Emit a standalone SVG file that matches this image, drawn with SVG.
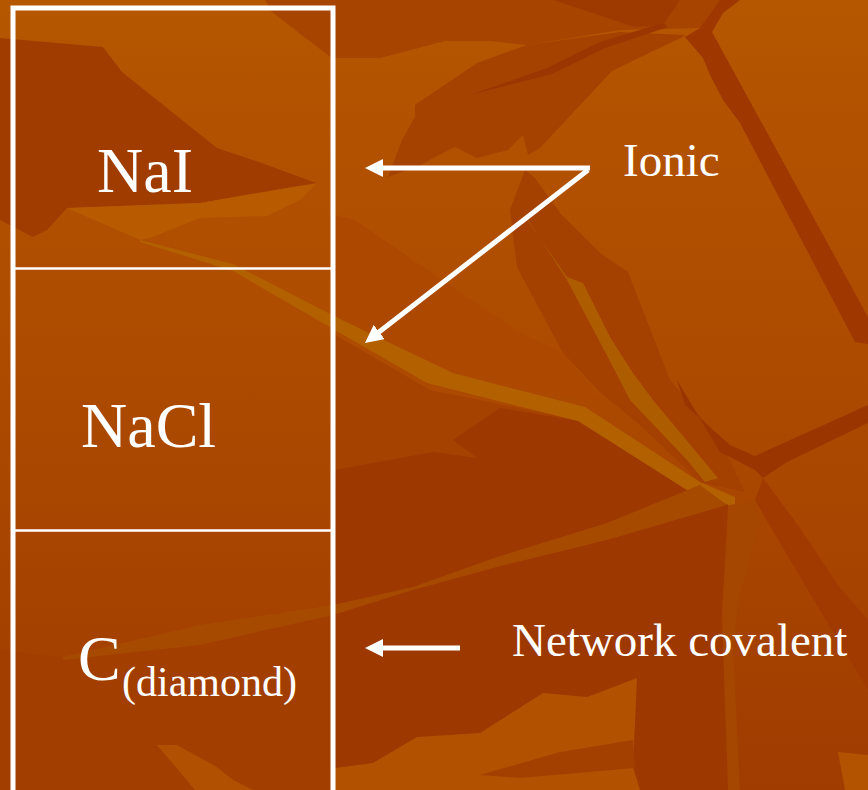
<svg xmlns="http://www.w3.org/2000/svg" width="868" height="790" viewBox="0 0 868 790">
  <defs>
    <linearGradient id="bg" x1="0" y1="0" x2="0" y2="1">
      <stop offset="0" stop-color="#B55600"/>
      <stop offset="0.45" stop-color="#AD4B00"/>
      <stop offset="1" stop-color="#A03C00"/>
    </linearGradient>
    <marker id="head" viewBox="0 0 18 18" markerWidth="18" markerHeight="18" refX="1" refY="9" orient="auto" markerUnits="userSpaceOnUse">
      <path d="M0,0 L18,9 L0,18 Z" fill="#FFFFFF"/>
    </marker>
    <style>
      .label { font-family: "Liberation Serif", "Times New Roman", serif; fill: #FFFFFF; }
      .big { font-size: 64px; }
      .side { font-size: 47px; }
      .sub { font-size: 42px; }
      .frame { fill: none; stroke: #FFFFFF; }
      .arrow { stroke: #FFFFFF; stroke-width: 5; fill: none; marker-end: url(#head); }
    </style>
  </defs>

  <!-- leaf texture background -->
  <g id="background">
    <rect x="0" y="0" width="868" height="790" fill="url(#bg)"/>
    <!-- darker field below the long golden vein -->
    <polygon fill="#A54200" points="335,335 430,390 578,420 700,488 728,505 722,613 728,790 335,790"/>
    <polygon fill="#9D3800" points="335,470 433,452 477,458 453,440 500,408 578,421 700,488 728,505 722,613 728,790 335,790"/>
    <polygon fill="#A23E00" points="0,650 63,658 200,632 333,610 333,790 0,790"/>
    <!-- subtle shading under the first arrow -->
    <polygon fill="#AC4800" points="335,215 355,220 417,263 520,333 563,353 600,400 450,380 335,322"/>
    <!-- top dark band -->
    <polygon fill="#A64400" points="265,0 271,11 299,33 332,58 380,58 445,41 490,41 527,45 620,30 700,28 717,13 737,0"/>
    <polygon fill="#9E3A00" points="553,0 635,27 663,25 680,0"/>
    <!-- dark leaf in the upper middle -->
    <polygon fill="#A54200" points="388,177 402,140 415,117 415,105 477,63 527,45 620,32 685,35 683,37 655,50 612,71 583,102 540,148 528,155 523,135 508,150 477,158 455,147 435,157 421,165"/>
    <polygon fill="#9B3600" points="470,95 547,68 600,42 663,23 668,27 605,48 552,74"/>
    <!-- dark area inside the top cell -->
    <polygon fill="#A03C00" points="0,38 103,47 122,72 217,148 253,160 316,183 293,187 200,203 67,208 47,230 33,237 0,220"/>
    <polygon fill="#B85A00" points="67,208 200,203 293,187 316,184 300,200 267,216 200,218 150,238 140,240"/>
    <!-- right-hand dark vein -->
    <polygon fill="#9E3800" points="685,37 703,58 710,75 723,100 740,123 855,342 868,344 868,317 712,32 723,13 740,0 720,0 700,28"/>
    <!-- dark band running down to the junction -->
    <polygon fill="#A44000" points="525,170 510,210 517,267 563,353 600,392 640,425 700,482 745,492 720,440 670,380 628,272 600,253 560,213 535,178"/>
    <!-- dark veins leaving the junction -->
    <polygon fill="#9B3500" points="677,380 685,405 730,445 755,456 868,405 868,423 787,462 763,478 755,470 720,452"/>
    <polygon fill="#A03A00" points="755,500 763,478 800,528 840,588 868,620 868,690 833,632 790,560"/>
    <!-- golden veins -->
    <polygon fill="#B26000" points="140,240 233,264 340,319 453,373 585,407 700,482 735,497 735,507 690,492 578,421 427,383 340,333 233,271 140,242"/>
    <polygon fill="#AE5C00" points="525,217 567,277 583,283 610,337 633,373 653,400 718,478 705,482 687,460 630,400 613,367 567,280 528,220"/>
    <polygon fill="#A64A00" points="63,657 200,625 333,605 413,587 497,557 607,523 700,485 727,505 607,540 497,567 413,590 333,615 200,645 63,660"/>
    <polygon fill="#A54700" points="730,505 725,567 722,613 728,790 740,790 733,647 740,593 760,523 755,500"/>
    <!-- light patches near the bottom -->
    <polygon fill="#B25200" points="335,768 373,763 417,737 480,733 543,693 587,697 637,678 633,767 640,790 335,790"/>
    <polygon fill="#A34000" points="480,775 560,752 633,740 635,768 520,778"/>
    <polygon fill="#B05000" points="157,745 177,745 217,767 233,780 253,790 195,790"/>
    <polygon fill="#B35300" points="838,752 868,755 868,790 845,790"/>
  </g>

  <!-- cell frame -->
  <g id="frame">
    <rect class="frame" x="13" y="8" width="320" height="800" stroke-width="5"/>
    <line class="frame" x1="13" y1="268.5" x2="333" y2="268.5" stroke-width="2.5"/>
    <line class="frame" x1="13" y1="530.5" x2="333" y2="530.5" stroke-width="2.5"/>
  </g>

  <g id="cell-nai">
    <text class="label big" x="97" y="192">NaI</text>
  </g>
  <g id="cell-nacl">
    <text class="label big" x="81" y="447">NaCl</text>
  </g>
  <g id="cell-diamond">
    <text class="label big" x="78" y="680">C<tspan class="sub" x="122" y="696">(diamond)</tspan></text>
  </g>

  <g id="label-ionic">
    <text class="label side" x="623" y="176">Ionic</text>
  </g>
  <g id="label-network">
    <text class="label side" x="512" y="656">Network covalent</text>
  </g>

  <!-- connectors -->
  <g id="connectors">
    <line class="arrow" x1="590" y1="168" x2="382" y2="168"/>
    <line class="arrow" x1="588" y1="170" x2="378.4" y2="332.6"/>
    <line class="arrow" x1="460" y1="648" x2="382" y2="648"/>
  </g>
</svg>
